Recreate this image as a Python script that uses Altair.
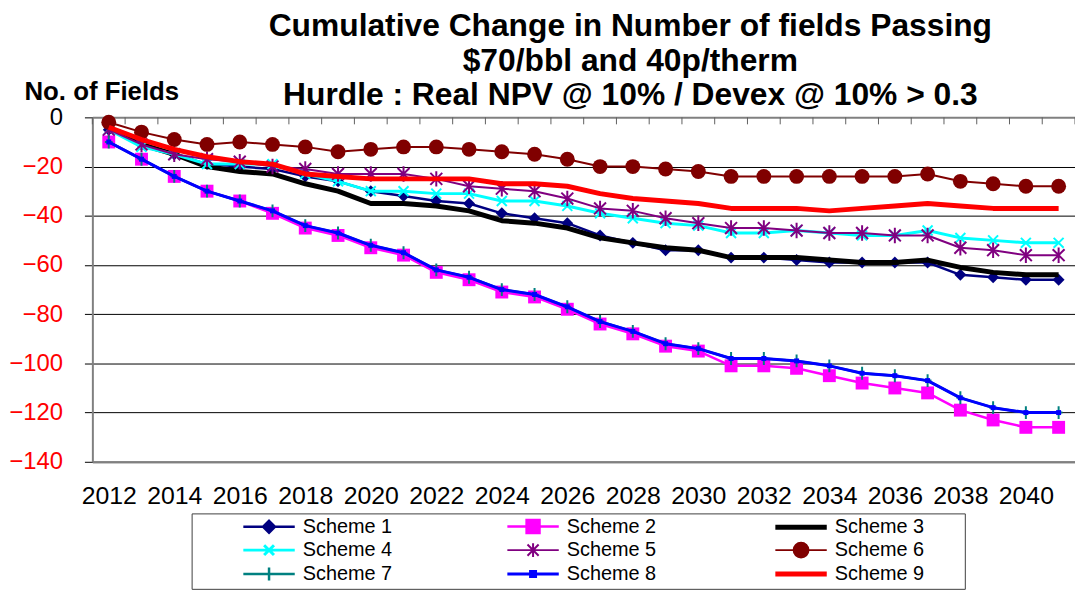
import altair as alt
import pandas as pd

FONT = "Liberation Sans"

years = [2012, 2013, 2014, 2015, 2016, 2017, 2018, 2019, 2020, 2021,
         2022, 2023, 2024, 2025, 2026, 2027, 2028, 2029, 2030, 2031,
         2032, 2033, 2034, 2035, 2036, 2037, 2038, 2039, 2040, 2041]

scheme1 = [-5, -11, -15, -19, -20, -21, -24, -26, -30, -32,
           -34, -35, -39, -41, -43, -48, -51, -54, -54, -57,
           -57, -58, -59, -59, -59, -59, -64, -65, -66, -66]
scheme2 = [-10, -17, -24, -30, -34, -39, -45, -48, -53, -56,
           -63, -66, -71, -73, -78, -84, -88, -93, -95, -101,
           -101, -102, -105, -108, -110, -112, -119, -123, -126, -126]
scheme3 = [-4, -11, -15, -20, -22, -23, -27, -30, -35, -35,
           -36, -38, -42, -43, -45, -49, -51, -53, -54, -57,
           -57, -57, -58, -59, -59, -58, -61, -63, -64, -64]
scheme4 = [-5, -12, -15, -19, -19, -19, -23, -26, -30, -30,
           -31, -31, -34, -34, -36, -39, -41, -43, -44, -47,
           -47, -46, -47, -48, -48, -46, -49, -50, -51, -51]
scheme5 = [-5, -11, -15, -17, -18, -20, -21, -23, -23, -23,
           -25, -28, -29, -30, -33, -37, -38, -41, -43, -45,
           -45, -46, -47, -47, -48, -48, -53, -54, -56, -56]
scheme6 = [-2, -6, -9, -11, -10, -11, -12, -14, -13, -12,
           -12, -13, -14, -15, -17, -20, -20, -21, -22, -24,
           -24, -24, -24, -24, -24, -23, -26, -27, -28, -28]
scheme7 = [-10, -17, -24, -30, -34, -38, -44, -47, -52, -55,
           -62, -65, -70, -72, -77, -83, -87, -92, -94, -98,
           -98, -99, -101, -104, -105, -107, -114, -118, -120, -120]
scheme8 = [-10, -17, -24, -30, -34, -38, -44, -47, -52, -55,
           -62, -65, -70, -72, -77, -83, -87, -92, -94, -98,
           -98, -99, -101, -104, -105, -107, -114, -118, -120, -120]
scheme9 = [-4, -9, -13, -16, -18, -19, -23, -24, -25, -25,
           -25, -25, -27, -27, -28, -31, -33, -34, -35, -37,
           -37, -37, -38, -37, -36, -35, -36, -37, -37, -37]

names = ["Scheme 1", "Scheme 2", "Scheme 3", "Scheme 4", "Scheme 5",
         "Scheme 6", "Scheme 7", "Scheme 8", "Scheme 9"]
series_values = [scheme1, scheme2, scheme3, scheme4, scheme5,
                 scheme6, scheme7, scheme8, scheme9]
colors = ["#000080", "#FF00FF", "#000000", "#00FFFF", "#800080",
          "#800000", "#008080", "#0000FF", "#FF0000"]
line_widths = [2.5, 2.5, 5, 3, 2, 2, 2.5, 3, 5]

year_labels = [2012, 2014, 2016, 2018, 2020, 2022, 2024, 2026,
               2028, 2030, 2032, 2034, 2036, 2038, 2040]
y_ticks = [0, -20, -40, -60, -80, -100, -120, -140]
title_lines = ["Cumulative Change in Number of fields Passing",
               "$70/bbl and 40p/therm",
               "Hurdle : Real NPV @ 10% / Devex @ 10% > 0.3"]

# category boundaries for the tick marks on the zero line
tick_edges = [y - 0.5 for y in years] + [years[-1] + 0.5]

rows = []
for name, vals in zip(names, series_values):
    for yr, v in zip(years, vals):
        rows.append({"year": yr, "series": name, "value": v})
df = pd.DataFrame(rows)
edges_df = pd.DataFrame({"edge": tick_edges})

# marker styles: (shape, size, filled, strokeWidth)
X_PATH = "M-1,-1L1,1M-1,1L1,-1"
AST_PATH = "M-1,-1L1,1M-1,1L1,-1M0,-1.3L0,1.3"
PLUS_PATH = "M0,-1L0,1M-0.6,0L0.6,0"
markers = [
    ("diamond", 144, True, 0),
    ("square", 169, True, 0),
    None,
    (X_PATH, 100, False, 2),
    (AST_PATH, 144, False, 2),
    ("circle", 225, True, 0),
    (PLUS_PATH, 169, False, 2),
    ("square", 25, True, 0),
    None,
]

# legend symbols: line + marker (unit = 7px for size 196);
# trailing move-to widens each entry to the right (no ink)
LN = "M-3.7,0L3.7,0"
PAD = "M21.6,0"
legend_paths = [
    LN + "M0,-0.86L0.86,0L0,0.86L-0.86,0Z" + PAD,
    LN + "M-0.93,-0.93L0.93,-0.93L0.93,0.93L-0.93,0.93Z" + PAD,
    LN + PAD,
    LN + "M-0.71,-0.71L0.71,0.71M-0.71,0.71L0.71,-0.71" + PAD,
    LN + "M-0.8,-0.8L0.8,0.8M-0.8,0.8L0.8,-0.8M0,-1L0,1" + PAD,
    LN + "M1.07,0A1.07,1.07,0,1,1,-1.07,0A1.07,1.07,0,1,1,1.07,0Z" + PAD,
    LN + "M0,-0.93L0,0.93" + PAD,
    LN + "M-0.36,-0.36L0.36,-0.36L0.36,0.36L-0.36,0.36Z" + PAD,
    LN + PAD,
]
legend_fills = [colors[i] if (markers[i] and markers[i][2]) else "transparent"
                for i in range(len(names))]

legend = alt.Legend(
    title="\u00a0", titleOrient="left", titlePadding=65, titleFontSize=20,
    orient="none", legendX=100, legendY=399,
    direction="horizontal", columns=3, columnPadding=76, rowPadding=0,
    padding=3, strokeColor="#404040", fillColor="white",
    labelFont=FONT, labelFontSize=20, labelColor="black", labelOffset=24,
    labelLimit=400, symbolSize=196, symbolOpacity=1,
)

xscale = alt.Scale(domain=[2011.5, 2041.5], nice=False, zero=False)
yscale = alt.Scale(domain=[-140, 0], nice=False, zero=False)

bottom_axis = alt.Axis(
    orient="bottom", values=year_labels, format="d", labelFont=FONT,
    labelFontSize=25, labelColor="black", ticks=False, domain=True,
    domainColor="#808080", domainWidth=2, grid=False, labelPadding=22,
    title=None, labelOverlap=False, labelFlush=False)
left_axis = alt.Axis(
    orient="left", values=y_ticks, labelFont=FONT, labelFontSize=24,
    labelColor={"expr": "datum.value == 0 ? '#000000' : '#FF0000'"},
    tickSize=8, tickColor="#000000", tickWidth=1,
    domainColor="#808080", domainWidth=2, grid=True,
    gridColor={"expr": "(datum.value == 0 || datum.value == -140) ? '#808080' : '#000000'"},
    gridWidth={"expr": "(datum.value == 0 || datum.value == -140) ? 2 : 1"},
    labelPadding=22, labelFlush=False,
    title="No. of Fields", titleAngle=0, titleX=9, titleY=-18,
    titleAlign="center", titleBaseline="alphabetic", titleFont=FONT,
    titleFontSize=26, titleFontWeight="bold", titleColor="black")

series_layers = []

# short category tick marks hanging down from the zero line
series_layers.append(
    alt.Chart(edges_df).mark_rule(color="#606060", strokeWidth=1).encode(
        x=alt.X("edge:Q", scale=xscale, axis=bottom_axis),
        y=alt.value(0), y2=alt.value(7),
    )
)

for i, name in enumerate(names):
    base = alt.Chart(df).transform_filter(alt.datum.series == name)
    enc = dict(
        x=alt.X("year:Q", scale=xscale, axis=bottom_axis),
        y=alt.Y("value:Q", scale=yscale, axis=left_axis),
    )
    series_layers.append(
        base.mark_line(strokeWidth=line_widths[i], strokeJoin="round",
                       color=colors[i]).encode(**enc))
    m = markers[i]
    if m is not None:
        shape, size, filled, sw = m
        series_layers.append(
            base.mark_point(shape=shape, size=size, filled=filled,
                            color=colors[i], strokeWidth=sw, opacity=1).encode(**enc))

data_layer = alt.layer(*series_layers)

# legend-only layer (no visible data marks: filtered to empty)
guide_layer = alt.Chart(df).transform_filter("datum.value > 0").mark_point(
    size=196, opacity=1).encode(
    x=alt.X("year:Q", scale=xscale, axis=None),
    y=alt.Y("value:Q", scale=yscale, axis=left_axis),
    shape=alt.Shape("series:N", scale=alt.Scale(domain=names, range=legend_paths),
                    legend=legend),
    fill=alt.Fill("series:N", scale=alt.Scale(domain=names, range=legend_fills),
                  legend=legend),
    stroke=alt.Stroke("series:N", scale=alt.Scale(domain=names, range=colors),
                      legend=legend),
    strokeWidth=alt.StrokeWidth("series:N",
                                scale=alt.Scale(type="ordinal", domain=names,
                                                range=line_widths),
                                legend=legend),
)

chart = alt.layer(data_layer, guide_layer).resolve_scale(
    x="independent"
).properties(
    width=990, height=347,
    title=alt.TitleParams(text=title_lines, font=FONT, fontSize=32,
                          fontWeight="bold", color="black", anchor="middle",
                          dx=47, dy=38, lineHeight=35),
    padding={"left": 85, "top": 108, "right": 0, "bottom": 129},
    autosize=alt.AutoSizeParams(type="none"),
    background="white",
).configure_view(stroke=None)

chart.save("out.html", embed_options={"renderer": "svg", "actions": False})
